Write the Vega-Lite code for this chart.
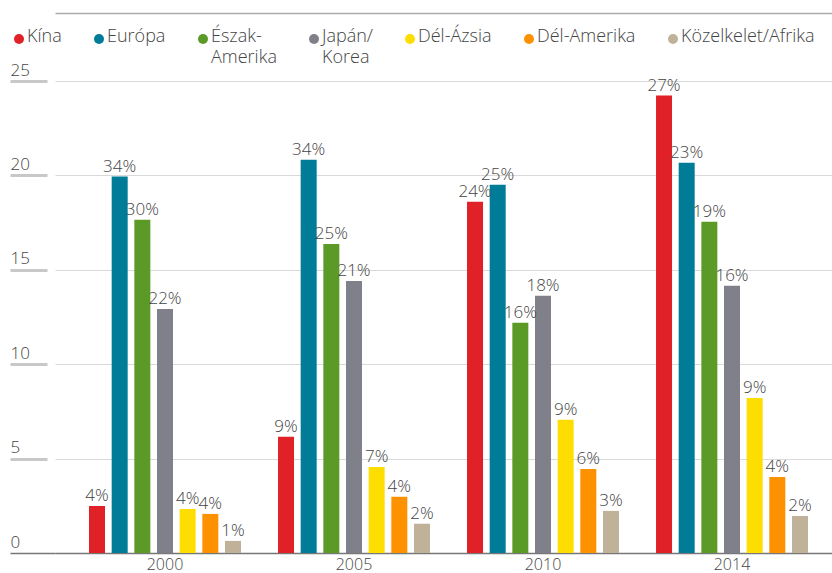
{
  "$schema": "https://vega.github.io/schema/vega-lite/v6.json",
  "width": 787,
  "height": 472,
  "autosize": {"type": "none"},
  "padding": {"left": 55, "top": 81, "right": 0, "bottom": 20},
  "config": {
    "view": {"stroke": null},
    "font": "Open Sans",
    "text": {"font": "Open Sans"}
  },
  "data": {
    "values": [
      {"year": "2000", "region": "Kína", "value": 2.49, "pct": "4%"},
      {"year": "2000", "region": "Európa", "value": 19.94, "pct": "34%"},
      {"year": "2000", "region": "Észak-Amerika", "value": 17.65, "pct": "30%"},
      {"year": "2000", "region": "Japán/Korea", "value": 12.93, "pct": "22%"},
      {"year": "2000", "region": "Dél-Ázsia", "value": 2.33, "pct": "4%"},
      {"year": "2000", "region": "Dél-Amerika", "value": 2.07, "pct": "4%"},
      {"year": "2000", "region": "Közelkelet/Afrika", "value": 0.64, "pct": "1%"},
      {"year": "2005", "region": "Kína", "value": 6.16, "pct": "9%"},
      {"year": "2005", "region": "Európa", "value": 20.83, "pct": "34%"},
      {"year": "2005", "region": "Észak-Amerika", "value": 16.37, "pct": "25%"},
      {"year": "2005", "region": "Japán/Korea", "value": 14.41, "pct": "21%"},
      {"year": "2005", "region": "Dél-Ázsia", "value": 4.56, "pct": "7%"},
      {"year": "2005", "region": "Dél-Amerika", "value": 2.98, "pct": "4%"},
      {"year": "2005", "region": "Közelkelet/Afrika", "value": 1.55, "pct": "2%"},
      {"year": "2010", "region": "Kína", "value": 18.6, "pct": "24%"},
      {"year": "2010", "region": "Európa", "value": 19.5, "pct": "25%"},
      {"year": "2010", "region": "Észak-Amerika", "value": 12.19, "pct": "16%"},
      {"year": "2010", "region": "Japán/Korea", "value": 13.62, "pct": "18%"},
      {"year": "2010", "region": "Dél-Ázsia", "value": 7.06, "pct": "9%"},
      {"year": "2010", "region": "Dél-Amerika", "value": 4.45, "pct": "6%"},
      {"year": "2010", "region": "Közelkelet/Afrika", "value": 2.23, "pct": "3%"},
      {"year": "2014", "region": "Kína", "value": 24.23, "pct": "27%"},
      {"year": "2014", "region": "Európa", "value": 20.67, "pct": "23%"},
      {"year": "2014", "region": "Észak-Amerika", "value": 17.54, "pct": "19%"},
      {"year": "2014", "region": "Japán/Korea", "value": 14.15, "pct": "16%"},
      {"year": "2014", "region": "Dél-Ázsia", "value": 8.21, "pct": "9%"},
      {"year": "2014", "region": "Dél-Amerika", "value": 4.03, "pct": "4%"},
      {"year": "2014", "region": "Közelkelet/Afrika", "value": 1.96, "pct": "2%"}
    ]
  },
  "encoding": {
    "x": {
      "field": "year",
      "type": "nominal",
      "scale": {"paddingInner": 0.196, "paddingOuter": 0.18}
    },
    "xOffset": {
      "field": "region",
      "type": "nominal",
      "sort": ["Kína", "Európa", "Észak-Amerika", "Japán/Korea", "Dél-Ázsia", "Dél-Amerika", "Közelkelet/Afrika"],
      "scale": {"paddingInner": 0.294, "paddingOuter": 0}
    },
    "y": {
      "field": "value",
      "type": "quantitative",
      "scale": {"domain": [0, 25], "nice": false},
      "axis": {
        "title": null,
        "values": [0, 5, 10, 15, 20, 25],
        "domain": false,
        "grid": true,
        "gridColor": "#d9d9d9",
        "gridWidth": 1.2,
        "offset": 0,
        "tickSize": 45,
        "tickColor": {"condition": {"test": "datum.value === 0", "value": "#777777"}, "value": "#c8c8c8"},
        "tickWidth": {"condition": {"test": "datum.value === 0", "value": 1.5}, "value": 3},
        "tickDash": {"condition": {"test": "datum.value === 0", "value": []}, "value": [0, 8, 37, 100]},
        "labelAlign": "left",
        "labelBaseline": "alphabetic",
        "labelPadding": 0,
        "labelOffset": -6,
        "labelFontSize": 17,
        "labelFontWeight": 300,
        "labelColor": "#444444"
      }
    }
  },
  "layer": [
    {
      "mark": {"type": "bar"},
      "encoding": {
        "x": {
          "field": "year",
          "type": "nominal",
          "axis": {
            "title": null,
            "labelAngle": 0,
            "ticks": false,
            "tickSize": 0,
            "domainColor": "#777777",
            "domainWidth": 1.5,
            "labelBaseline": "alphabetic",
            "labelPadding": 16,
            "labelFontSize": 16,
            "labelFontWeight": 300,
            "labelColor": "#444444"
          }
        },
        "color": {
          "field": "region",
          "type": "nominal",
          "sort": ["Kína", "Európa", "Észak-Amerika", "Japán/Korea", "Dél-Ázsia", "Dél-Amerika", "Közelkelet/Afrika"],
          "scale": {
            "domain": ["Kína", "Európa", "Észak-Amerika", "Japán/Korea", "Dél-Ázsia", "Dél-Amerika", "Közelkelet/Afrika"],
            "range": ["#e02127", "#007b98", "#5c9a27", "#80808a", "#fedd00", "#fe9100", "#bfb299"]
          },
          "legend": {
            "title": null,
            "orient": "none",
            "legendX": -45,
            "legendY": -56,
            "direction": "horizontal",
            "columns": 7,
            "symbolType": "circle",
            "symbolSize": 100,
            "symbolStrokeWidth": 0,
            "symbolOpacity": 1,
            "labelFontSize": 18,
            "labelFontWeight": 300,
            "labelColor": "#444444",
            "labelOffset": 3,
            "columnPadding": 28,
            "labelBaseline": "top",
            "labelLimit": 300,
            "labelExpr": "datum.label == 'Észak-Amerika' ? ['Észak-', 'Amerika'] : datum.label == 'Japán/Korea' ? ['Japán/', 'Korea'] : [datum.label, ' ']",
            "encode": {
              "symbols": {"update": {"y": {"value": 14}}},
              "labels": {"update": {
                "y": {"value": 14},
                "dy": {"value": -11},
                "dx": {"value": -4},
                "lineHeight": {"value": 21}
              }}
            }
          }
        }
      }
    },
    {
      "mark": {"type": "text", "baseline": "alphabetic", "dy": -5, "fontSize": 17, "fontWeight": 300, "color": "#444444"},
      "encoding": {
        "x": {
          "field": "year",
          "type": "nominal",
          "axis": {
            "orient": "top",
            "offset": 68,
            "title": null,
            "labels": false,
            "ticks": false,
            "grid": false,
            "domainColor": "#aaaaaa",
            "domainWidth": 1.5
          }
        },
        "text": {"field": "pct"}
      }
    }
  ],
  "resolve": {"axis": {"x": "independent"}}
}
